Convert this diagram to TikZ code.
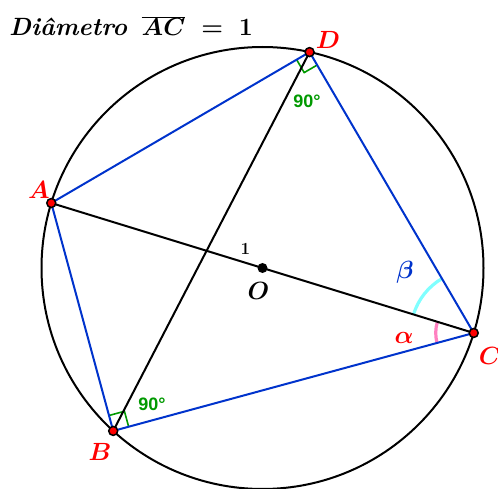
\documentclass[tikz,border=0pt]{standalone}
\usepackage{fontspec}
\newfontfamily\gfont{Liberation Sans}
\usetikzlibrary{calc}
\definecolor{gblue}{RGB}{0,51,204}
\definecolor{ggreen}{RGB}{0,153,0}
\definecolor{gcyan}{RGB}{128,255,255}
\definecolor{gpink}{RGB}{255,128,192}
\tikzset{
  blk/.style={line width=2pt, black},
  blu/.style={line width=2pt, gblue},
  pt/.style={circle, draw=black, fill=red, line width=1.5pt, inner sep=0pt, minimum size=9pt},
  ctr/.style={circle, fill=black, inner sep=0pt, minimum size=10pt},
  lbl/.style={text=red, font=\mathversion{bold}\fontsize{24}{28}\selectfont, inner sep=0pt},
  ninety/.style={text=ggreen, font=\gfont\bfseries\fontsize{18}{21}\selectfont, inner sep=0pt},
  ramark/.style={ggreen, line width=1.6pt},
}
\begin{document}
\begin{tikzpicture}[x=1pt,y=1pt]
\useasboundingbox (0,0) rectangle (498,488);
\coordinate (O) at (262.5,220);
\path (O) ++(162.9:221pt) coordinate (A);
\path (O) ++(-17.1:221pt) coordinate (C);
\path (O) ++(227.5:221pt) coordinate (B);
\path (O) ++(77.7:221pt) coordinate (D);
% circle
\draw[blk] (O) circle (221pt);
% angle arcs at C
\draw[gcyan, line width=3.2pt] ($(C)+(120.3:63pt)$) arc[start angle=120.3, end angle=162.9, radius=63pt];
\draw[gpink, line width=3.2pt] ($(C)+(162.9:38pt)$) arc[start angle=162.9, end angle=195.3, radius=38pt];
% right angle marks
\coordinate (d1) at ($(D)!15pt!(A)$);
\coordinate (d2) at ($(D)!15pt!(C)$);
\draw[ramark] (d1) -- ($(d1)+(d2)-(D)$) -- (d2);
\coordinate (b1) at ($(B)!16pt!(A)$);
\coordinate (b2) at ($(B)!16pt!(C)$);
\draw[ramark] (b1) -- ($(b1)+(b2)-(B)$) -- (b2);
% lines
\draw[blk] (A) -- (C);
\draw[blk] (B) -- (D);
\draw[blu] (A) -- (D) -- (C) -- (B) -- cycle;
% points
\node[ctr] (Odot) at (O) {};
\node[pt] (Ap) at (A) {};
\node[pt] (Bp) at (B) {};
\node[pt] (Cp) at (C) {};
\node[pt] (Dp) at (D) {};
% labels
\node[lbl] (lA) at (39,298) {$A$};
\node[lbl] (lB) at (100,36) {$B$};
\node[lbl] (lC) at (490,132) {$C$};
\node[lbl] (lD) at (328,448) {$D$};
\node[lbl, text=black] (lO) at (258.5,197) {$O$};
\node[inner sep=0pt, font=\fontsize{17}{20}\selectfont\bfseries] (l1) at (245.5,239.5) {1};
\node[lbl] (la) at (404,150) {$\alpha$};
\node[lbl, text=gblue] (lb) at (405,216) {$\beta$};
\node[ninety] (n1) at (307,387) {90°};
\node[ninety] (n2) at (152,84) {90°};
% title
\node[anchor=west, inner sep=0pt, font=\mathversion{bold}\fontsize{25}{30}\selectfont\bfseries\itshape] (title) at (9,462) {Diâmetro\, $\overline{AC}\;=\;1$};
\end{tikzpicture}
\end{document}
